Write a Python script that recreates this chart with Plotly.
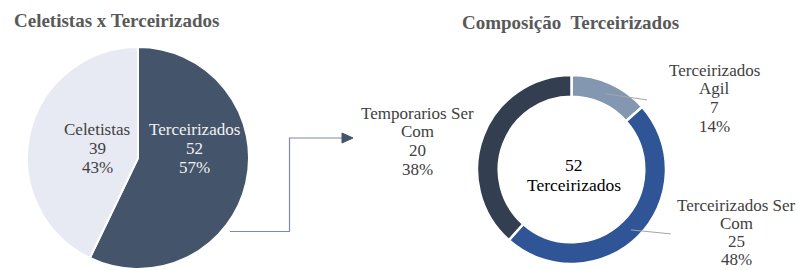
import math
import plotly.graph_objects as go

W, H = 796, 270

# ---- data ----
pie_labels = ["Terceirizados", "Celetistas"]
pie_values = [52, 39]
pie_pct = [57, 43]
pie_colors = ["#44546A", "#E8EAF3"]

donut_labels = ["Terceirizados Agil", "Terceirizados Ser Com", "Temporarios Ser Com"]
donut_label_lines = [["Terceirizados", "Agil"], ["Terceirizados Ser", "Com"], ["Temporarios Ser", "Com"]]
donut_values = [7, 25, 20]
donut_pct = [14, 48, 38]
donut_colors = ["#8497B0", "#2F5597", "#333F50"]

title_left = "Celetistas x Terceirizados"
title_right = "Composição  Terceirizados"
center_text = "Terceirizados"

FONT = "Liberation Serif, Times New Roman, serif"
LBL = 17
LINE = 18.7


def px(x):
    return x / W


def py(y):
    return 1 - y / H


fig = go.Figure()

# left pie
fig.add_trace(go.Pie(
    labels=pie_labels, values=pie_values, sort=False, direction="clockwise", rotation=0,
    marker=dict(colors=pie_colors, line=dict(color="white", width=2)),
    textinfo="none", hoverinfo="label+value+percent", showlegend=False,
    domain=dict(x=[px(27), px(249)], y=[py(269), py(47)]),
))

# donut
fig.add_trace(go.Pie(
    labels=donut_labels, values=donut_values, sort=False, direction="clockwise", rotation=0,
    hole=0.77,
    marker=dict(colors=donut_colors, line=dict(color="white", width=2.5)),
    textinfo="none", hoverinfo="label+value+percent", showlegend=False,
    domain=dict(x=[px(477), px(666)], y=[py(264), py(75)]),
))

ann = []
shapes = []


def text_block(lines, x, y0, color, size=LBL, step=LINE):
    for i, s in enumerate(lines):
        ann.append(dict(x=px(x), y=py(y0 + i * step), xref="paper", yref="paper",
                        xanchor="center", yanchor="middle", text=s, showarrow=False,
                        font=dict(family=FONT, size=size, color=color)))


# titles
ann.append(dict(x=px(12), y=py(21), xref="paper", yref="paper", xanchor="left", yanchor="middle",
                text="<b>%s</b>" % title_left, showarrow=False,
                font=dict(family=FONT, size=19, color="#595959")))
ann.append(dict(x=px(570), y=py(22), xref="paper", yref="paper", xanchor="center", yanchor="middle",
                text="<b>%s</b>" % title_right.replace("  ", "&nbsp; "), showarrow=False,
                font=dict(family=FONT, size=19, color="#595959")))

# left pie labels
left_pos = {"Terceirizados": (194.5, 130, "#F2F2F2"), "Celetistas": (97, 130, "#404040")}
for lab, v, p in zip(pie_labels, pie_values, pie_pct):
    x, y, c = left_pos[lab]
    text_block([lab, str(v), "%d%%" % p], x, y, c)

# donut labels
donut_pos = [(714, 70, LINE), (736, 205, 18), (417, 113, LINE)]
for lines, v, p, (x, y, st) in zip(donut_label_lines, donut_values, donut_pct, donut_pos):
    text_block(lines + [str(v), "%d%%" % p], x, y, "#404040", step=st)

# center text
dtot = sum(donut_values)
text_block([str(dtot), center_text], 573.5, 165, "#000000", size=17.5, step=20)

# leader lines computed from slice mid-angles
cx, cy, rmid = 571.5, 170.5, 84
cum = 0
ends = [(41, 6), (40, 4), None]
for v, e in zip(donut_values, ends):
    mid = (cum + v / 2) / dtot * 2 * math.pi
    cum += v
    if e is None:
        continue
    sx = cx + rmid * math.sin(mid)
    sy = cy - rmid * math.cos(mid)
    shapes.append(dict(type="line", xref="paper", yref="paper",
                       x0=px(sx), y0=py(sy), x1=px(sx + e[0]), y1=py(sy + e[1]),
                       line=dict(color="#A6A6A6", width=1)))

# connector arrow
path = "M %f,%f L %f,%f L %f,%f L %f,%f" % (px(230), py(231.5), px(289.5), py(231.5),
                                            px(289.5), py(138), px(344), py(138))
shapes.append(dict(type="path", xref="paper", yref="paper", path=path,
                   line=dict(color="#7E8CA3", width=1.2)))
tri = "M %f,%f L %f,%f L %f,%f Z" % (px(353), py(138), px(342), py(133), px(342), py(143))
shapes.append(dict(type="path", xref="paper", yref="paper", path=tri,
                   fillcolor="#44546A", line=dict(color="#44546A", width=1)))

fig.update_layout(
    width=W, height=H, margin=dict(l=0, r=0, t=0, b=0),
    paper_bgcolor="white", plot_bgcolor="white",
    annotations=ann, shapes=shapes,
    font=dict(family=FONT),
)

fig.write_html("out.html", config={"displayModeBar": False},
               post_script="document.body.style.margin='0px';")
